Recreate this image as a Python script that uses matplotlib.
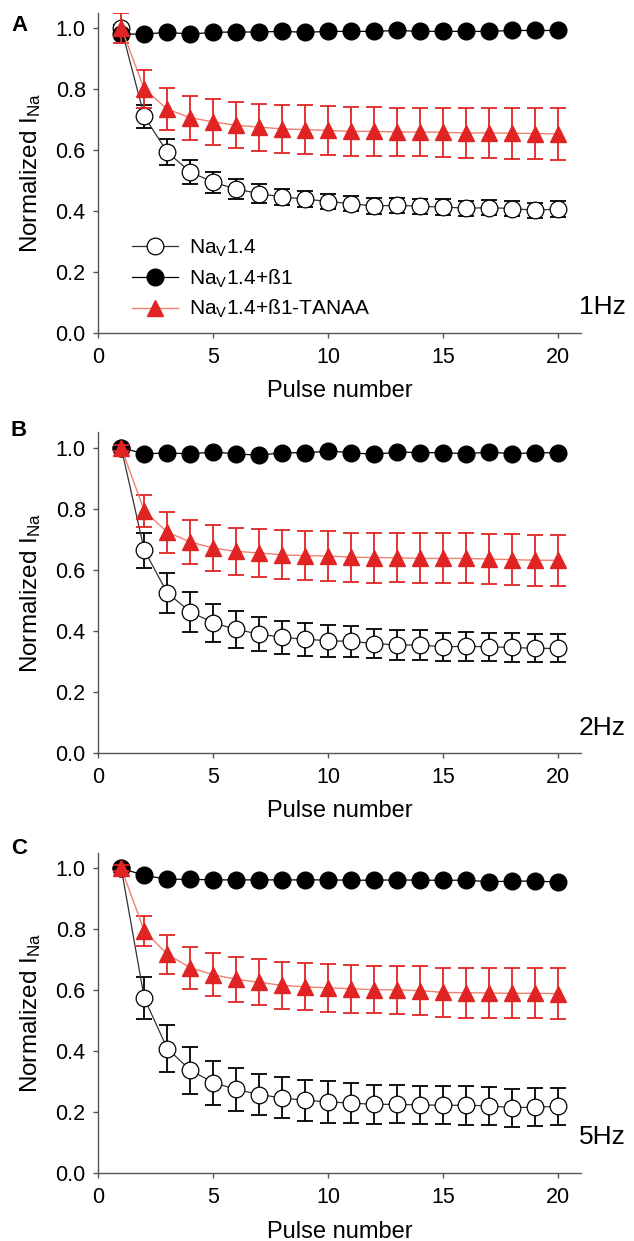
import matplotlib
matplotlib.use("Agg")
import matplotlib.pyplot as plt

plt.rcParams['font.family'] = ['Liberation Sans', 'DejaVu Sans']
plt.rcParams['mathtext.fontset'] = 'custom'
plt.rcParams['mathtext.rm'] = 'Liberation Sans'
plt.rcParams['mathtext.it'] = 'Liberation Sans:italic'
plt.rcParams['mathtext.bf'] = 'Liberation Sans:bold'

pulses = list(range(1, 21))

# ---- 1 Hz ----
nav_1hz = [1.0, 0.710, 0.593, 0.528, 0.494, 0.472, 0.457, 0.446, 0.439, 0.431,
           0.424, 0.416, 0.419, 0.415, 0.413, 0.409, 0.411, 0.408, 0.402, 0.407]
nav_1hz_err = [0.01, 0.038, 0.042, 0.039, 0.034, 0.034, 0.030, 0.026, 0.027, 0.025,
               0.025, 0.025, 0.025, 0.025, 0.025, 0.025, 0.025, 0.025, 0.025, 0.026]
b1_1hz = [0.98, 0.980, 0.986, 0.980, 0.986, 0.987, 0.987, 0.989, 0.986, 0.989,
          0.989, 0.989, 0.992, 0.989, 0.989, 0.989, 0.989, 0.992, 0.992, 0.992]
b1_1hz_err = [0.006] * 20
tanaa_1hz = [1.0, 0.800, 0.734, 0.706, 0.692, 0.681, 0.675, 0.669, 0.667, 0.664,
             0.661, 0.661, 0.659, 0.659, 0.658, 0.656, 0.656, 0.655, 0.654, 0.653]
tanaa_1hz_err = [0.05, 0.062, 0.069, 0.072, 0.076, 0.076, 0.077, 0.079, 0.079, 0.079,
                 0.080, 0.080, 0.079, 0.079, 0.080, 0.082, 0.082, 0.083, 0.083, 0.085]

# ---- 2 Hz ----
nav_2hz = [1.0, 0.664, 0.524, 0.462, 0.426, 0.404, 0.389, 0.378, 0.372, 0.367,
           0.365, 0.358, 0.353, 0.353, 0.347, 0.349, 0.347, 0.345, 0.342, 0.342]
nav_2hz_err = [0.01, 0.057, 0.065, 0.065, 0.063, 0.060, 0.055, 0.055, 0.054, 0.052,
               0.051, 0.049, 0.050, 0.049, 0.047, 0.047, 0.047, 0.047, 0.046, 0.046]
b1_2hz = [1.0, 0.980, 0.983, 0.980, 0.986, 0.980, 0.975, 0.984, 0.983, 0.989,
          0.984, 0.978, 0.986, 0.984, 0.984, 0.980, 0.986, 0.980, 0.984, 0.983]
b1_2hz_err = [0.008] * 20
tanaa_2hz = [1.0, 0.793, 0.723, 0.691, 0.671, 0.660, 0.655, 0.649, 0.646, 0.645,
             0.641, 0.640, 0.639, 0.637, 0.637, 0.637, 0.635, 0.633, 0.631, 0.631]
tanaa_2hz_err = [0.01, 0.052, 0.067, 0.073, 0.075, 0.076, 0.078, 0.080, 0.080, 0.081,
                 0.081, 0.082, 0.080, 0.082, 0.082, 0.082, 0.081, 0.083, 0.084, 0.084]

# ---- 5 Hz ----
nav_5hz = [1.0, 0.574, 0.409, 0.338, 0.297, 0.275, 0.258, 0.247, 0.239, 0.234,
           0.230, 0.226, 0.226, 0.224, 0.223, 0.223, 0.221, 0.215, 0.217, 0.219]
nav_5hz_err = [0.01, 0.068, 0.078, 0.077, 0.072, 0.071, 0.066, 0.067, 0.067, 0.068,
               0.066, 0.063, 0.062, 0.063, 0.063, 0.064, 0.063, 0.062, 0.062, 0.062]
b1_5hz = [1.0, 0.977, 0.964, 0.964, 0.962, 0.962, 0.962, 0.962, 0.962, 0.962,
          0.961, 0.961, 0.962, 0.961, 0.961, 0.961, 0.956, 0.958, 0.958, 0.955]
b1_5hz_err = [0.007] * 20
tanaa_5hz = [1.0, 0.795, 0.718, 0.674, 0.651, 0.636, 0.626, 0.616, 0.611, 0.608,
             0.605, 0.602, 0.601, 0.599, 0.593, 0.592, 0.591, 0.590, 0.590, 0.589]
tanaa_5hz_err = [0.01, 0.049, 0.063, 0.069, 0.070, 0.074, 0.075, 0.076, 0.077, 0.078,
                 0.078, 0.078, 0.079, 0.079, 0.081, 0.082, 0.083, 0.082, 0.082, 0.083]

panel_letters = ['A', 'B', 'C']
freq_labels = ['1Hz', '2Hz', '5Hz']
series_labels = [r'Na$_\mathrm{V}$1.4', r'Na$_\mathrm{V}$1.4+ß1', r'Na$_\mathrm{V}$1.4+ß1-TANAA']

panels = [
    (nav_1hz, nav_1hz_err, b1_1hz, b1_1hz_err, tanaa_1hz, tanaa_1hz_err),
    (nav_2hz, nav_2hz_err, b1_2hz, b1_2hz_err, tanaa_2hz, tanaa_2hz_err),
    (nav_5hz, nav_5hz_err, b1_5hz, b1_5hz_err, tanaa_5hz, tanaa_5hz_err),
]

RED = '#e02424'
RED_LINE = '#f2806e'
AXIS_GREY = '#555555'

fig = plt.figure(figsize=(6.34, 12.41), dpi=100)
axes_rects = [
    [0.155, 0.7317, 0.762, 0.258],
    [0.155, 0.3935, 0.762, 0.258],
    [0.155, 0.0546, 0.762, 0.258],
]
letter_y = [0.9795, 0.6535, 0.3160]
freq_y = [0.7526, 0.4134, 0.0840]

for i, (nav, nav_e, b1, b1_e, tan, tan_e) in enumerate(panels):
    ax = fig.add_axes(axes_rects[i])

    # Na_V1.4 alone: open circles
    ax.errorbar(pulses, nav, yerr=nav_e, fmt='none', ecolor='black', elinewidth=1.3,
                capsize=6, capthick=1.3, zorder=2)
    h1, = ax.plot(pulses, nav, 'o', ms=12, mfc='white', mec='black', mew=0.9,
                  ls='-', color='#333333', lw=0.9, zorder=4, label=series_labels[0])

    # Na_V1.4 + beta1: filled circles
    ax.errorbar(pulses, b1, yerr=b1_e, fmt='none', ecolor='#444444', elinewidth=1.0,
                capsize=6, capthick=1.0, zorder=5)
    h2, = ax.plot(pulses, b1, 'o', ms=12, mfc='black', mec='black',
                  ls='-', color='black', lw=0.9, zorder=6, label=series_labels[1])

    # Na_V1.4 + beta1-TANAA: red triangles
    ax.errorbar(pulses, tan, yerr=tan_e, fmt='none', ecolor=RED, elinewidth=1.3,
                capsize=6, capthick=1.3, zorder=7)
    h3, = ax.plot(pulses, tan, '^', ms=11.5, mfc=RED, mec=RED,
                  ls='-', color=RED_LINE, lw=1.0, zorder=8, label=series_labels[2])

    ax.set_xlim(0, 21)
    ax.set_ylim(0, 1.05)
    ax.set_xticks([0, 5, 10, 15, 20])
    ax.set_yticks([0.0, 0.2, 0.4, 0.6, 0.8, 1.0])
    ax.set_yticklabels(['0.0', '0.2', '0.4', '0.6', '0.8', '1.0'])
    ax.spines['top'].set_visible(False)
    ax.spines['right'].set_visible(False)
    for side in ['left', 'bottom']:
        ax.spines[side].set_color(AXIS_GREY)
        ax.spines[side].set_linewidth(1.0)
    ax.tick_params(direction='out', length=3.6, width=1.0, color=AXIS_GREY,
                   labelsize=15.5)
    ax.tick_params(axis='y', pad=5.5)
    ax.tick_params(axis='x', pad=6.5)
    ax.set_xlabel('Pulse number', fontsize=17, labelpad=9)
    ax.set_ylabel(r'Normalized I$_\mathrm{Na}$', fontsize=17.5, labelpad=9)

    fig.text(0.030, letter_y[i], panel_letters[i], fontsize=16, fontweight='bold',
             ha='center', va='center')
    fig.text(0.913, freq_y[i], freq_labels[i], fontsize=19, ha='left', va='center')

    if i == 0:
        ax.legend(handles=[h1, h2, h3], loc='lower left', bbox_to_anchor=(0.069, 0.04),
                  frameon=False, fontsize=15, handlelength=2.24, handletextpad=0.5,
                  labelspacing=0.4, borderpad=0, borderaxespad=0)

fig.savefig('out.png', dpi=100)
